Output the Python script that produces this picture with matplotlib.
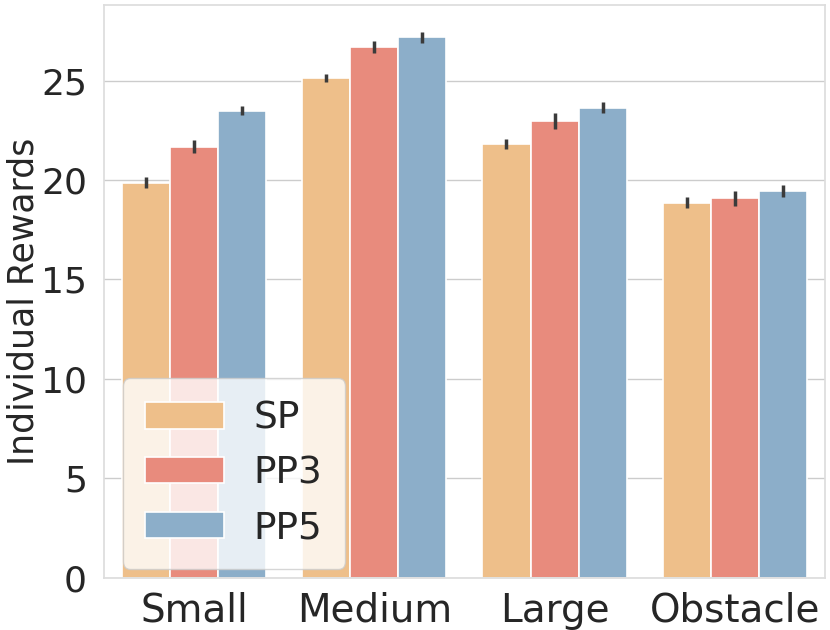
import numpy as np
import seaborn as sns
import matplotlib
matplotlib.use("Agg")
import matplotlib.pyplot as plt

# values
envs = ["Small", "Medium", "Large", "Obstacle"]
methods = ["SP", "PP3", "PP5"]
means = {
    "SP":  [19.87, 25.14, 21.82, 18.85],
    "PP3": [21.68, 26.69, 22.97, 19.08],
    "PP5": [23.49, 27.18, 23.64, 19.45],
}
errs = {
    "SP":  [0.27, 0.20, 0.24, 0.28],
    "PP3": [0.31, 0.30, 0.40, 0.39],
    "PP5": [0.23, 0.27, 0.29, 0.29],
}
colors = ["#EEBF8A", "#E88B7D", "#8CAEC9"]

sns.set_theme(style="whitegrid", font_scale=2.3)
plt.rcParams['font.family'] = ['DejaVu Sans']

fig, ax = plt.subplots(figsize=(8.3, 6.3), dpi=100)
x = np.arange(len(envs))
w = 0.8 / len(methods)
for i, m in enumerate(methods):
    pos = x - 0.4 + w / 2 + i * w
    ax.bar(pos, means[m], width=w, color=colors[i], edgecolor="white",
           linewidth=1.2, label=m, zorder=2)
    ax.errorbar(pos, means[m], yerr=errs[m], fmt="none", ecolor="#3b3b3b",
                elinewidth=2.5, capsize=0, zorder=3)

ax.set_xticks(x)
ax.set_xticklabels(envs)
ax.set_xlim(-0.5, 3.5)
ax.set_ylim(0, 28.8)
ax.set_yticks([0, 5, 10, 15, 20, 25])
ax.set_ylabel("Individual Rewards", fontsize=25)
ax.yaxis.set_label_coords(-0.088, 0.482)
ax.tick_params(axis="x", labelsize=28, pad=4)
ax.tick_params(axis="y", labelsize=26, pad=6)
ax.grid(axis="x", visible=False)
ax.set_axisbelow(True)
for s in ax.spines.values():
    s.set_color("#dddddd")

ax.legend(loc="lower left", bbox_to_anchor=(0.026, 0.016), borderaxespad=0,
          fontsize=27, handlelength=2.1, handleheight=0.7,
          labelspacing=0.5, handletextpad=0.8, borderpad=0.6)

plt.subplots_adjust(left=0.125, right=0.994, top=0.992, bottom=0.083)
plt.savefig("out.png", dpi=100)
